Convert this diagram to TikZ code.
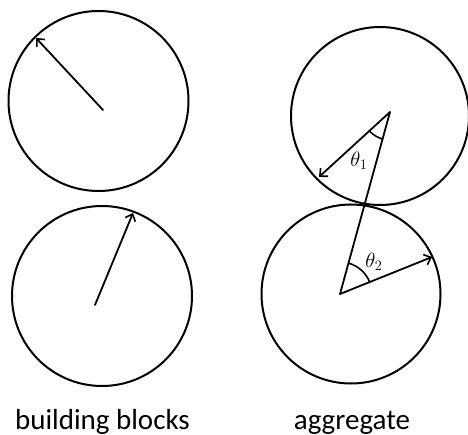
\documentclass[tikz,border=0pt]{standalone}
\usepackage{fontspec}
\setmainfont{Carlito}
\usetikzlibrary{arrows.meta,angles}

\tikzset{
  blob/.style={line width=2pt},
  spin/.style={line width=1.8pt, -{Straight Barb[length=6pt,width=11pt,line width=1.6pt]}},
  bond/.style={line width=1.8pt},
  caption/.style={anchor=base,inner sep=0pt,font=\fontsize{29}{35}\selectfont},
  anglab/.style={anchor=center,inner sep=0pt,font=\fontsize{22}{26}\selectfont}
}

\begin{document}
\begin{tikzpicture}[x=1pt, y=-1pt, line cap=round, line join=round]

  %% ==== centres and tips ====
  \coordinate (cA) at (98.5,101.0);
  \coordinate (cB) at (102.0,296.0);
  \coordinate (cC) at (380.0,116.0);
  \coordinate (cD) at (351.0,294.0);

  \coordinate (sA) at (103.0,110.0);
  \coordinate (tA) at (36.0,38.0);
  \coordinate (sB) at (95.0,305.0);
  \coordinate (tB) at (133.0,213.0);
  \coordinate (v1) at (390.0,112.0);
  \coordinate (a1) at (319.0,177.0);
  \coordinate (v2) at (340.0,294.0);
  \coordinate (a2) at (432.0,257.0);

  %% ==== circles ====
  \draw[blob] (cA) circle (90.0);
  \draw[blob] (cB) circle (90.0);
  \draw[blob] (cC) circle (89.0);
  \draw[blob] (cD) circle (89.5);

  %% ==== arrows ====
  \draw[spin] (sA) -- (tA);
  \draw[spin] (sB) -- (tB);
  \draw[spin] (v1) -- (a1);
  \draw[spin] (v2) -- (a2);
  \draw[bond] (v1) -- (v2);

  %% ==== angles ====
  \pic[draw, line width=1.6pt, angle radius=28pt] {angle = a1--v1--v2};
  \pic[draw, line width=1.6pt, angle radius=32pt] {angle = a2--v2--v1};

  %% ==== labels ====
  \node[anglab] (th1) at (359.0,161.0) {$\theta_1$};
  \node[anglab] (th2) at (374.0,262.0) {$\theta_2$};
  \node[caption] (lblocks) at (102.5,429.0) {building blocks};
  \node[caption] (lagg) at (352.0,429.0) {aggregate};

  \pgfresetboundingbox
  \path[use as bounding box] (0,0) rectangle (468,435);
\end{tikzpicture}
\end{document}
